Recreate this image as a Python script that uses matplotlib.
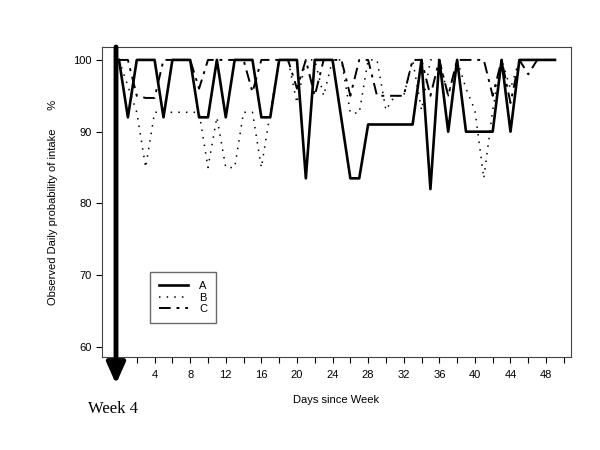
import matplotlib
matplotlib.use("Agg")
import matplotlib.pyplot as plt

# ---- data ----
days_A = [0, 1, 2, 4, 5, 6, 8, 9, 10, 11, 12, 13, 15, 16, 17, 18, 20, 21, 22, 24,
          26, 27, 28, 33, 34, 35, 36, 37, 38, 39, 42, 43, 44, 45, 49]
vals_A = [100, 92, 100, 100, 92, 100, 100, 92, 92, 100, 92, 100, 100, 92, 92, 100, 100, 83.5, 100, 100,
          83.5, 83.5, 91, 91, 100, 82, 100, 90, 100, 90, 90, 100, 90, 100, 100]

days_B = [0, 2, 3, 4, 9, 10, 11, 12, 13, 14, 15, 16, 17, 18, 19, 20, 21, 22, 23, 24, 25,
          26, 27, 28, 29, 30, 31, 32, 33, 34, 35, 36, 37, 38, 39, 40, 41, 42, 43, 44, 45, 46, 49]
vals_B = [100, 92.7, 85, 92.7, 92.7, 85, 92, 85, 85, 92.7, 92.7, 85, 92.7, 100, 100, 94, 100, 100, 95, 100, 100,
          92.6, 92.6, 100, 100, 93, 95, 95, 100, 93, 100, 100, 95, 100, 96, 93, 83.5, 93, 100, 96, 100, 100, 100]

days_C = [0, 1, 2, 3, 4, 5, 8, 9, 10, 14, 15, 16, 19, 20, 21, 22, 23, 25, 26, 27, 28,
          29, 30, 31, 32, 33, 34, 35, 36, 37, 38, 40, 41, 42, 43, 44, 45, 46, 47, 49]
vals_C = [100, 100, 95, 94.7, 94.7, 100, 100, 96, 100, 100, 95.5, 100, 100, 96, 100, 95, 100, 100, 95, 100, 100,
          95, 95, 95, 95, 100, 100, 95, 100, 95, 100, 100, 100, 95, 100, 94, 100, 98, 100, 100]

labels = ["A", "B", "C"]
x_major = [4, 8, 12, 16, 20, 24, 28, 32, 36, 40, 44, 48]
x_minor = list(range(2, 51, 2))
y_ticks = [60, 70, 80, 90, 100]

# ---- figure ----
fig = plt.figure(figsize=(6, 4.5), dpi=100)
ax = fig.add_axes([102/600, 1-357/450, (571-102)/600, (357-47)/450])
font = "Liberation Sans"

ax.plot(days_A, vals_A, color="black", lw=1.9, ls="-", label=labels[0])
ax.plot(days_B, vals_B, color="black", lw=1.1, ls=(0, (1, 4)), label=labels[1])
ax.plot(days_C, vals_C, color="black", lw=1.4, ls=(0, (6, 3, 1.5, 3)), label=labels[2])

ax.set_xlim(-1.91, 50.8)
ax.set_ylim(58.6, 101.8)
ax.set_xticks(x_minor, minor=True)
ax.set_xticks(x_major)
ax.set_xticklabels([str(v) for v in x_major], fontfamily=font, fontsize=8)
ax.set_yticks(y_ticks)
ax.set_yticklabels([str(v) for v in y_ticks], fontfamily=font, fontsize=8)
ax.tick_params(axis="both", which="both", direction="out", length=4, width=0.8)
ax.tick_params(axis="x", which="major", pad=5)
for s in ax.spines.values():
    s.set_linewidth(0.8)
    s.set_color("#444444")

ax.set_xlabel("Days since Week", fontfamily=font, fontsize=8, labelpad=11)
ax.set_ylabel("Observed Daily probability of intake      %", fontfamily=font, fontsize=8, labelpad=11)

leg = ax.legend(loc="upper left", bbox_to_anchor=(150/600, 1-272/450), bbox_transform=fig.transFigure,
                frameon=True, fancybox=False, edgecolor="#444444", handlelength=2.6,
                prop={"family": font, "size": 8}, borderpad=0.8, labelspacing=0.15, handletextpad=1.0,
                borderaxespad=0)
leg.get_frame().set_linewidth(1.0)

# Week 4 arrow
ax.annotate("", xy=(116, 450-384), xytext=(116, 450-47), xycoords="figure pixels",
            textcoords="figure pixels",
            arrowprops=dict(arrowstyle="-|>,head_width=0.4,head_length=0.9", lw=3.5,
                            color="black", mutation_scale=14, shrinkA=0, shrinkB=0),
            annotation_clip=False)
fig.text(88/600, 1-409/450, "Week 4", fontfamily="Liberation Serif", fontsize=12,
         va="center", ha="left")

fig.savefig("out.png", dpi=100)
